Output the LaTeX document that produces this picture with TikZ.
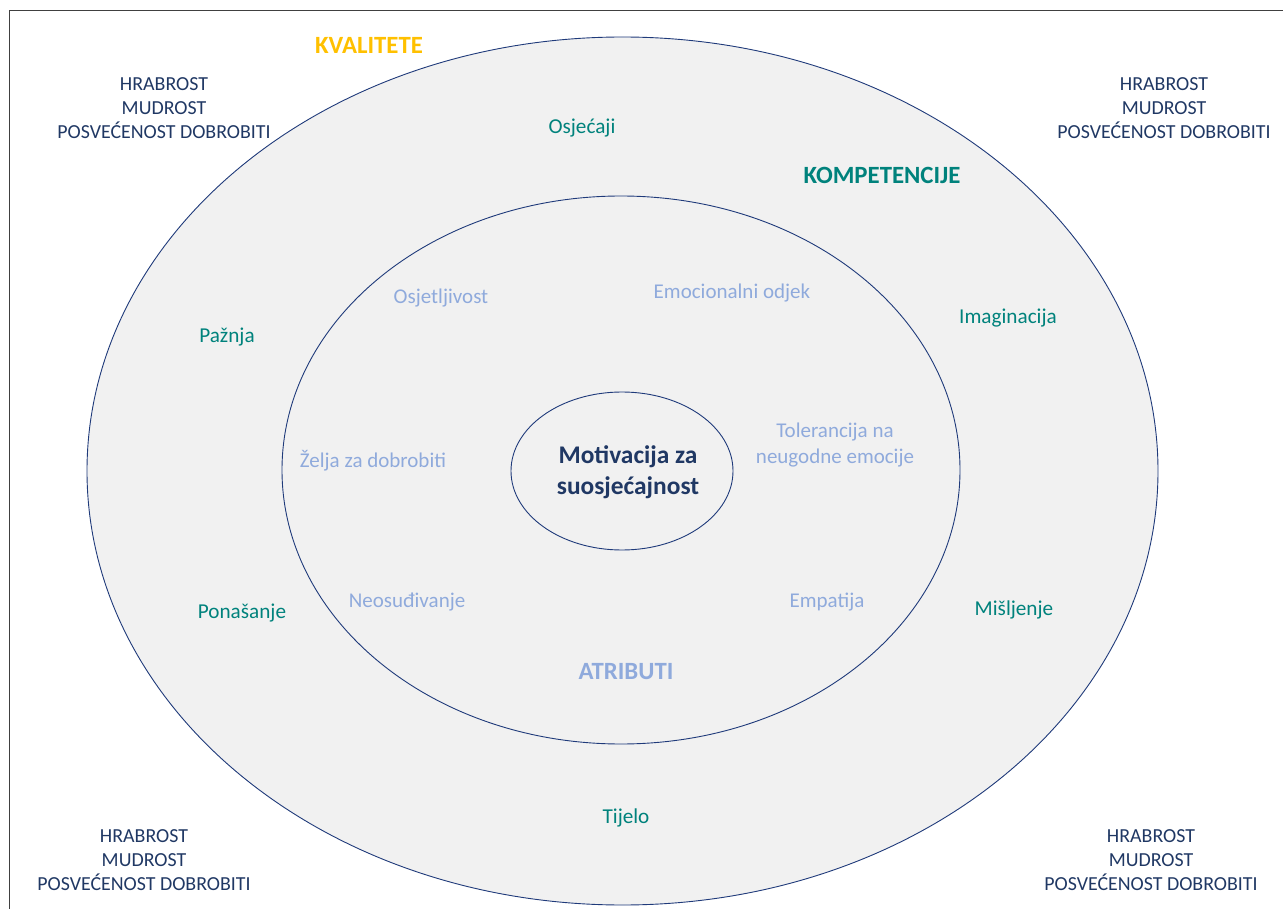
\documentclass[tikz,border=0pt]{standalone}
\usepackage{fontspec}
\setmainfont{Carlito}
\definecolor{navy}{HTML}{203864}
\definecolor{ring}{HTML}{1F3A7A}
\definecolor{teal}{HTML}{00827C}
\definecolor{soft}{HTML}{8FAADC}
\definecolor{gold}{HTML}{FFC000}
\definecolor{paper}{HTML}{F1F1F1}
\definecolor{frame}{HTML}{404040}
\tikzset{
  ringline/.style={draw=ring, line width=0.9pt, fill=paper},
  virtue/.style={text=navy, align=center, font=\fontsize{19.9}{24}\selectfont},
  skill/.style={text=teal, font=\fontsize{21.2}{24}\selectfont},
  attr/.style={text=soft, align=center, font=\fontsize{21}{26}\selectfont},
  heading/.style={font=\bfseries\fontsize{24.8}{28}\selectfont},
}
\begin{document}
\begin{tikzpicture}[x=1pt,y=-1pt]
\useasboundingbox (0,0) rectangle (1283,909);
% page frame
\draw[frame, line width=1pt] (9.5,920) -- (9.5,11) -- (1300,11);
% three nested rings
\draw[ringline] (622.5,471) ellipse [x radius=535.5pt, y radius=434pt];
\draw[ringline] (621,470) ellipse [x radius=339pt, y radius=274pt];
\draw[ringline] (622,471) ellipse [x radius=111pt, y radius=79pt];
% headings
\node[heading, text=gold] (kval) at (369,45) {KVALITETE};
\node[heading, text=teal] (komp) at (882,175) {KOMPETENCIJE};
\node[heading, text=soft] (atr) at (626,672) {ATRIBUTI};
\node[heading, text=navy, align=center, font=\bfseries\fontsize{25.4}{31}\selectfont] (mot) at (628,472) {Motivacija za\\suosjećajnost};
% qualities in the corners
\node[virtue] (q1) at (164,108) {HRABROST\\MUDROST\\POSVEĆENOST DOBROBITI};
\node[virtue] (q2) at (1164,108) {HRABROST\\MUDROST\\POSVEĆENOST DOBROBITI};
\node[virtue] (q3) at (144,860) {HRABROST\\MUDROST\\POSVEĆENOST DOBROBITI};
\node[virtue] (q4) at (1151,860) {HRABROST\\MUDROST\\POSVEĆENOST DOBROBITI};
% competencies
\node[skill] (osj) at (582,128) {Osjećaji};
\node[skill] (paz) at (227,337) {Pažnja};
\node[skill] (ima) at (1008,318) {Imaginacija};
\node[skill] (pon) at (242,613) {Ponašanje};
\node[skill] (mis) at (1014,610) {Mišljenje};
\node[skill] (tij) at (626,818) {Tijelo};
% attributes
\node[attr] (osl) at (441,298) {Osjetljivost};
\node[attr] (emo) at (732,293) {Emocionalni odjek};
\node[attr] (zel) at (373,461) {Želja za dobrobiti};
\node[attr] (tol) at (835,445) {Tolerancija na\\neugodne emocije};
\node[attr] (neo) at (407,602) {Neosuđivanje};
\node[attr] (emp) at (827,602) {Empatija};
\end{tikzpicture}
\end{document}
